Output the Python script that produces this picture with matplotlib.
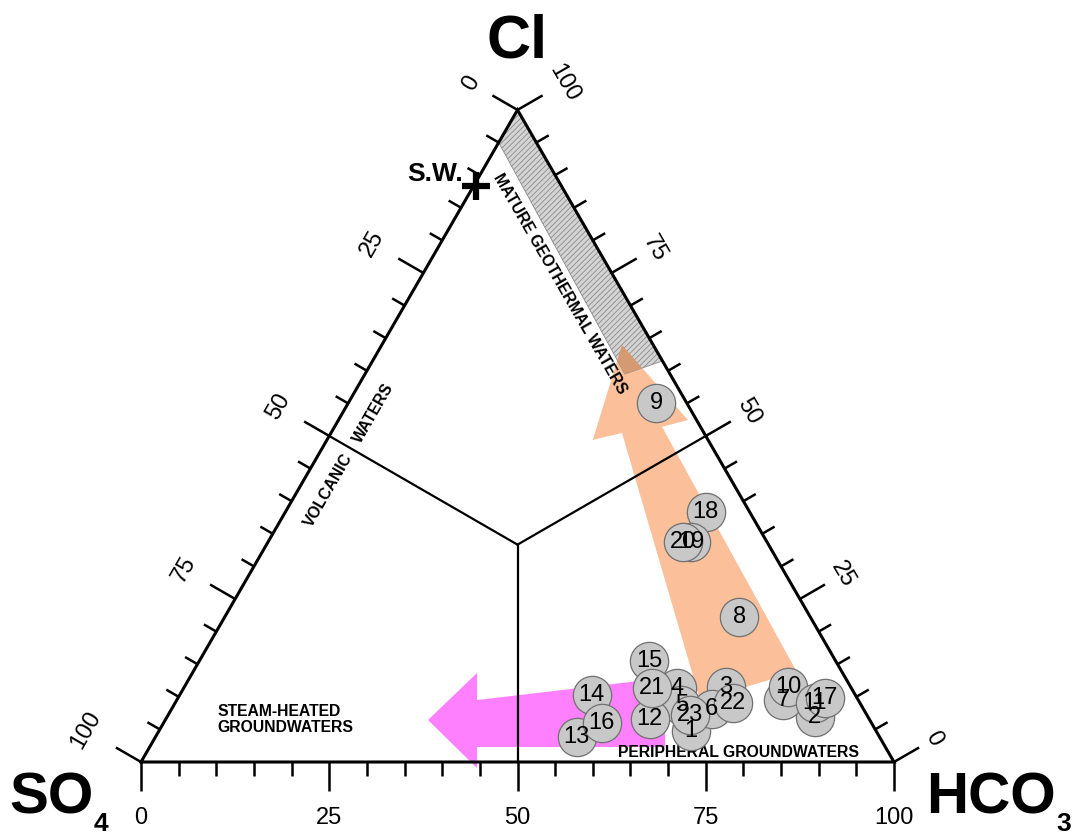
import numpy as np
import matplotlib
matplotlib.use("Agg")
import matplotlib.pyplot as plt
from matplotlib.patches import Polygon

plt.rcParams['font.family'] = ['Liberation Sans', 'DejaVu Sans']
plt.rcParams['hatch.linewidth'] = 0.6

# ---------------- data (percent SO4, HCO3, Cl) ----------------
sample_ids = [str(i) for i in range(1, 24)]
so4 = [24.6, 7.05, 16.55, 23.2, 23.85, 20.15, 9.95, 9.45, 4.05, 8.25, 6.0, 29.15,
       40.2, 35.0, 24.75, 35.85, 4.3, 5.8, 10.0, 11.1, 26.55, 16.85, 23.5]
hco3 = [70.6, 86.0, 71.9, 65.5, 67.4, 71.75, 80.55, 68.35, 40.85, 80.2, 85.0, 64.3,
        55.9, 54.7, 59.75, 58.2, 85.95, 55.8, 56.2, 55.1, 62.15, 74.15, 69.3]
cl = [4.8, 6.95, 11.55, 11.3, 8.75, 8.1, 9.5, 22.2, 55.1, 11.55, 9.0, 6.55,
      3.9, 10.3, 15.5, 5.95, 9.75, 38.4, 33.8, 33.8, 11.3, 9.0, 7.2]

seawater_so4, seawater_hco3, seawater_cl = 11.3, 0.4, 88.3

# mature geothermal band (SO4, HCO3, Cl)
band_so4 = [0, 5, 6, 0]
band_hco3 = [0, 0, 34.5, 38.5]
band_cl = [100, 95, 59.5, 61.5]

# orange arrow (HCO3, Cl)
orange_hco3 = [31.9, 46.4, 43.5, 80.2, 69.5, 38.65, 35.3]
orange_cl = [63.95, 52.45, 51.4, 13.8, 9.5, 50.45, 49.4]

# magenta arrow (HCO3, Cl)
magenta_hco3 = [34.9, 37.8, 39.87, 63.15, 68.45, 43.47, 45.08]
magenta_cl = [6.44, 13.65, 9.5, 12.9, 2.3, 2.3, -0.92]

tick_values = list(range(0, 101, 5))
major_values = [0, 25, 50, 75, 100]

S3 = np.sqrt(3) / 2


def tern(a, b, c):
    a = np.asarray(a, float); b = np.asarray(b, float); c = np.asarray(c, float)
    t = a + b + c
    return 100 * (b + c / 2) / t, 100 * c * S3 / t


def tern2(b, c):
    b = np.asarray(b, float); c = np.asarray(c, float)
    return b + c / 2, c * S3


fig = plt.figure(figsize=(10.8, 8.35), dpi=100)
ax = fig.add_axes([0, 0, 1, 1])
ax.set_xlim(-18.725, 124.70)
ax.set_ylim(-9.695, 101.20)
ax.axis('off')

# orange arrow
ox, oy = tern2(orange_hco3, orange_cl)
orange = Polygon(np.column_stack([ox, oy]), closed=True, facecolor='#FBC09A',
                 edgecolor='none', zorder=1)
ax.add_patch(orange)

# magenta arrow
mx, my = tern2(magenta_hco3, magenta_cl)
ax.add_patch(Polygon(np.column_stack([mx, my]), closed=True, facecolor='#FF80FF',
                     edgecolor='none', zorder=1))

# band
bx, by = tern(band_so4, band_hco3, band_cl)
band = Polygon(np.column_stack([bx, by]), closed=True, facecolor='#D4D4D4',
               edgecolor='#8A8A8A', linewidth=0.6, hatch='//////', zorder=2)
ax.add_patch(band)
overlap = Polygon(np.column_stack([ox, oy]), closed=True, facecolor='#D69A72',
                  edgecolor='none', zorder=2.5)
ax.add_patch(overlap)
overlap.set_clip_path(band)

# triangle
tx, ty = tern([100, 0, 0, 100], [0, 100, 0, 0], [0, 0, 100, 0])
ax.plot(tx, ty, color='black', lw=2.2, zorder=4, solid_joinstyle='miter')

# interior lines from centroid to edge midpoints
cx, cy = tern(1, 1, 1)
for a, b, c in [(50, 0, 50), (0, 50, 50), (50, 50, 0)]:
    ex, ey = tern(a, b, c)
    ax.plot([cx, ex], [cy, ey], color='black', lw=1.6, zorder=4)

# ticks
axes_def = {
    'bottom': (lambda v: tern(100 - v, v, 0), (0.0, -1.0), 0),
    'left': (lambda v: tern(v, 0, 100 - v), (-S3, 0.5), 60),
    'right': (lambda v: tern(0, 100 - v, v), (S3, 0.5), -60),
}
for name, (fn, nrm, rot) in axes_def.items():
    for v in tick_values:
        px, py = fn(v)
        L = 3.85 if v in major_values else 1.9
        ax.plot([px, px + nrm[0] * L], [py, py + nrm[1] * L], color='black',
                lw=1.8, zorder=4, solid_capstyle='butt')
    for v in major_values:
        px, py = fn(v)
        lab = str(v)
        if name == 'bottom':
            off = 7.4
        elif name == 'left':
            off = 6.4 + 0.7 * len(lab)
        else:
            off = 5.6 + 0.5 * len(lab)
        ax.text(px + nrm[0] * off, py + nrm[1] * off, lab, rotation=rot,
                ha='center', va='center', fontsize=17, zorder=5,
                rotation_mode='anchor')

# region labels
lab_kw = dict(fontsize=11.3, fontweight='bold', ha='center', va='center', zorder=6)
ax.text(55.6, 63.55, 'MATURE GEOTHERMAL WATERS', rotation=-60,
        rotation_mode='anchor', **lab_kw)
ax.text(79.3, 1.3, 'PERIPHERAL GROUNDWATERS', **lab_kw)
ax.text(10.1, 5.6, 'STEAM-HEATED\nGROUNDWATERS', fontsize=11.3, fontweight='bold',
        ha='left', va='center', linespacing=1.1, zorder=6)
ax.text(24.85, 36.1, 'VOLCANIC', rotation=60, rotation_mode='anchor', **lab_kw)
ax.text(30.95, 46.4, 'WATERS', rotation=60, rotation_mode='anchor', **lab_kw)

# seawater
sx, sy = tern(seawater_so4, seawater_hco3, seawater_cl)
ax.plot(sx, sy, marker='+', markersize=20, mew=4.5, color='black', zorder=6)
ax.text(sx - 1.8, sy + 1.6, 'S.W.', fontsize=19, fontweight='bold', ha='right',
        va='center', zorder=6)

# samples
px, py = tern(so4, hco3, cl)
ax.scatter(px, py, s=760, facecolor='#C8C8C8', edgecolor='#707070', linewidth=0.9,
           zorder=7)
for i, lab in enumerate(sample_ids):
    ax.text(px[i], py[i], lab, fontsize=17, ha='center', va='center', zorder=8)

# corner labels
ax.text(50, 93.6, 'Cl', fontsize=44, fontweight='bold', ha='center',
        va='baseline')
ax.text(-17.5, -6.9, 'SO', fontsize=42, fontweight='bold', ha='left', va='baseline')
ax.text(-6.3, -9.1, '4', fontsize=19, fontweight='bold', ha='left', va='baseline')
ax.text(104.2, -6.9, 'HCO', fontsize=42, fontweight='bold', ha='left', va='baseline')
ax.text(121.5, -9.1, '3', fontsize=19, fontweight='bold', ha='left', va='baseline')

fig.savefig('out.png', dpi=100)
